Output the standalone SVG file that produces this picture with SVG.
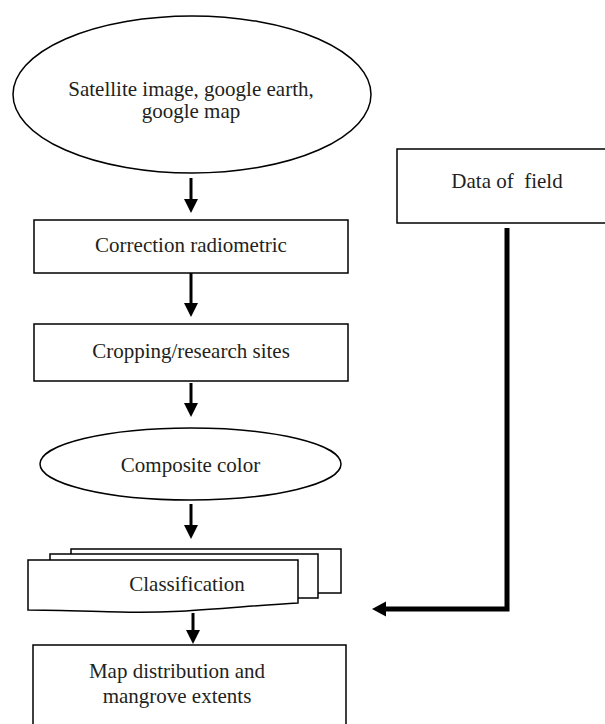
<svg xmlns="http://www.w3.org/2000/svg" width="605" height="724" viewBox="0 0 605 724">
<style>
.s{fill:#fff;stroke:#000;stroke-width:1.5}
.t{font-family:"Liberation Serif","Times New Roman",serif;font-size:21px;fill:#231f20;text-anchor:middle}
.c{stroke:#000;stroke-width:3;fill:none}
.k{stroke:#000;stroke-width:5;fill:none}
</style>
<defs>
<marker id="ah" markerWidth="14" markerHeight="14" viewBox="0 -7 14 14" refX="0" refY="0" orient="auto" markerUnits="userSpaceOnUse">
<path d="M0,-7 L14,0 L0,7 Z" fill="#000"/>
</marker>
<marker id="ah2" markerWidth="15" markerHeight="16" viewBox="0 -8 15 16" refX="0" refY="0" orient="auto" markerUnits="userSpaceOnUse">
<path d="M0,-7.5 L14,0 L0,7.5 Z" fill="#000"/>
</marker>
</defs>
<rect width="605" height="724" fill="#fff"/>
<g id="connectors">
<line class="c" x1="191" y1="178" x2="191" y2="199" marker-end="url(#ah)"/>
<line class="c" x1="191" y1="273" x2="191" y2="303" marker-end="url(#ah)"/>
<line class="c" x1="191" y1="383" x2="191" y2="403" marker-end="url(#ah)"/>
<line class="c" x1="191" y1="504" x2="191" y2="525" marker-end="url(#ah)"/>
<line class="c" x1="193" y1="613" x2="193" y2="630" marker-end="url(#ah)"/>
<polyline class="k" points="507,228 507,609 386,609" marker-end="url(#ah2)"/>
</g>
<g id="satellite">
<ellipse class="s" cx="192" cy="94.5" rx="179" ry="78.5"/>
<text class="t" x="191" y="96">Satellite image, google earth,</text>
<text class="t" x="191" y="118">google map</text>
</g>
<g id="field">
<rect class="s" x="397" y="149" width="212" height="74"/>
<text class="t" x="507" y="188" xml:space="preserve">Data of  field</text>
</g>
<g id="correction">
<rect class="s" x="34" y="220" width="314" height="53"/>
<text class="t" x="191" y="252">Correction radiometric</text>
</g>
<g id="cropping">
<rect class="s" x="34" y="324" width="314" height="57"/>
<text class="t" x="191" y="358">Cropping/research sites</text>
</g>
<g id="composite">
<ellipse class="s" cx="190.5" cy="464" rx="150.5" ry="36"/>
<text class="t" x="190.5" y="472">Composite color</text>
</g>
<g id="classification">
<rect class="s" x="71" y="549" width="270" height="44"/>
<rect class="s" x="50" y="554" width="268" height="44"/>
<path class="s" d="M28,560 L298,560 L298,603 C240,606 180,614 120,612 C80,611 50,610 28,610 Z"/>
<text class="t" x="187" y="591">Classification</text>
</g>
<g id="map">
<rect class="s" x="33" y="645" width="313" height="85"/>
<text class="t" x="177" y="678">Map distribution and</text>
<text class="t" x="177" y="703">mangrove extents</text>
</g>
</svg>
